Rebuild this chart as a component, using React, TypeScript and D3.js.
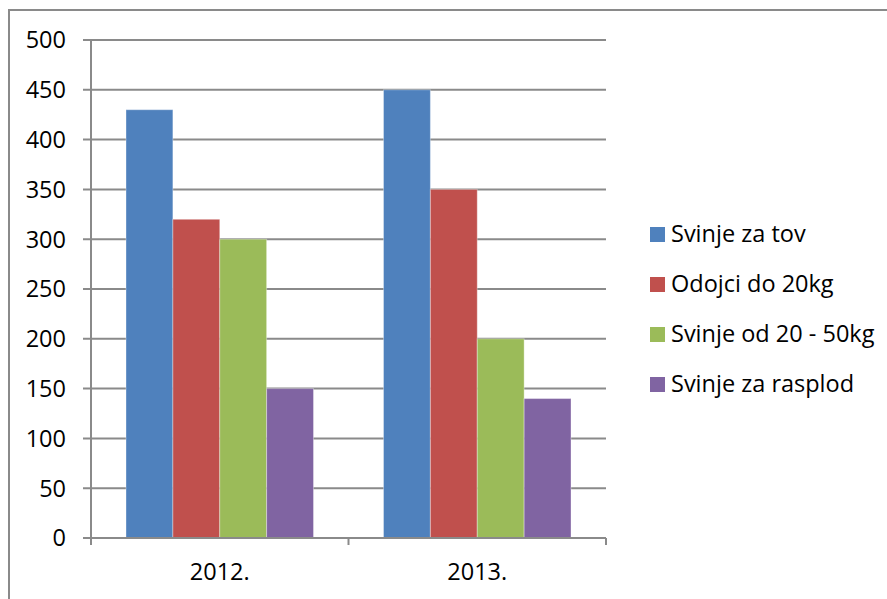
import React, {useEffect, useRef} from "react";
import * as d3 from "d3";

const years = ["2012.", "2013."];
const seriesNames = ["Svinje za tov", "Odojci do 20kg", "Svinje od 20 - 50kg", "Svinje za rasplod"];
const seriesColors = ["#4F81BD", "#C0504D", "#9BBB59", "#8064A2"];
// one array per series, values for 2012. and 2013.
const svinjeZaTov = [430, 450];
const odojci = [320, 350];
const svinje20do50 = [300, 200];
const svinjeZaRasplod = [150, 140];
const yTicks = [0, 50, 100, 150, 200, 250, 300, 350, 400, 450, 500];

const width = 887, height = 599;

export default function App() {
    const ref = useRef<SVGSVGElement>(null);

    useEffect(() => {
        const svg = d3.select(ref.current);
        svg.selectAll("*").remove();

        const values = [svinjeZaTov, odojci, svinje20do50, svinjeZaRasplod];
        const font = "'Open Sans', 'Noto Sans', sans-serif";
        const grey = "#8a8a8a";

        // outer chart border (runs off the right and bottom of the picture)
        svg.append("rect")
            .attr("x", 9).attr("y", 10)
            .attr("width", 920).attr("height", 620)
            .attr("fill", "white")
            .attr("stroke", grey).attr("stroke-width", 2);

        const left = 91, right = 606, top = 40, bottom = 538;

        const y = d3.scaleLinear().domain([0, 500]).range([bottom, top]);
        const x0 = d3.scaleBand().domain(years).range([left, right]).padding(0);
        const x1 = d3.scaleBand().domain(seriesNames.map(String))
            .range([35, x0.bandwidth() - 35]).padding(0);

        // gridlines + y tick marks
        svg.append("g")
            .selectAll("line")
            .data(yTicks.filter(t => t > 0))
            .join("line")
            .attr("x1", left - 8).attr("x2", right)
            .attr("y1", d => y(d)).attr("y2", d => y(d))
            .attr("stroke", grey).attr("stroke-width", 2);

        // y tick labels
        svg.append("g")
            .attr("font-family", font)
            .attr("font-size", 23.5)
            .attr("text-anchor", "end")
            .selectAll("text")
            .data(yTicks)
            .join("text")
            .attr("x", 66)
            .attr("y", d => y(d))
            .attr("dy", "0.36em")
            .text(d => d);

        // bars
        svg.append("g")
            .selectAll("g")
            .data(years)
            .join("g")
            .attr("transform", d => `translate(${x0(d)},0)`)
            .selectAll("rect")
            .data((d, i) => values.map((v, s) => ({s, v: v[i]})))
            .join("rect")
            .attr("x", d => x1(seriesNames[d.s]))
            .attr("width", x1.bandwidth())
            .attr("y", d => y(d.v))
            .attr("height", d => y(0) - y(d.v))
            .attr("fill", d => seriesColors[d.s])
            .attr("stroke", "rgba(255,255,255,0.35)")
            .attr("stroke-width", 1);

        // axes
        svg.append("line")
            .attr("x1", left).attr("x2", left)
            .attr("y1", top).attr("y2", bottom + 7)
            .attr("stroke", grey).attr("stroke-width", 2);
        svg.append("line")
            .attr("x1", left - 8).attr("x2", right)
            .attr("y1", bottom).attr("y2", bottom)
            .attr("stroke", grey).attr("stroke-width", 2);
        svg.append("g")
            .selectAll("line")
            .data([...years.map(d => x0(d)), right])
            .join("line")
            .attr("x1", d => d).attr("x2", d => d)
            .attr("y1", bottom).attr("y2", bottom + 7)
            .attr("stroke", grey).attr("stroke-width", 2);

        // category labels
        svg.append("g")
            .attr("font-family", font)
            .attr("font-size", 23.5)
            .attr("text-anchor", "middle")
            .selectAll("text")
            .data(years)
            .join("text")
            .attr("x", d => x0(d) + x0.bandwidth() / 2)
            .attr("y", 580)
            .text(d => d);

        // legend
        const legend = svg.append("g")
            .selectAll("g")
            .data(seriesNames)
            .join("g")
            .attr("transform", (d, i) => `translate(650,${242 + i * 50})`);
        legend.append("rect")
            .attr("x", 0).attr("y", -15)
            .attr("width", 15).attr("height", 15)
            .attr("fill", (d, i) => seriesColors[i]);
        legend.append("text")
            .attr("x", 21).attr("y", 0)
            .attr("font-family", font)
            .attr("font-size", 23.5)
            .text(d => d);
    }, []);

    return (
        <svg ref={ref} width={width} height={height}
             style={{position: "absolute", left: 0, top: 0}} />
    );
}
